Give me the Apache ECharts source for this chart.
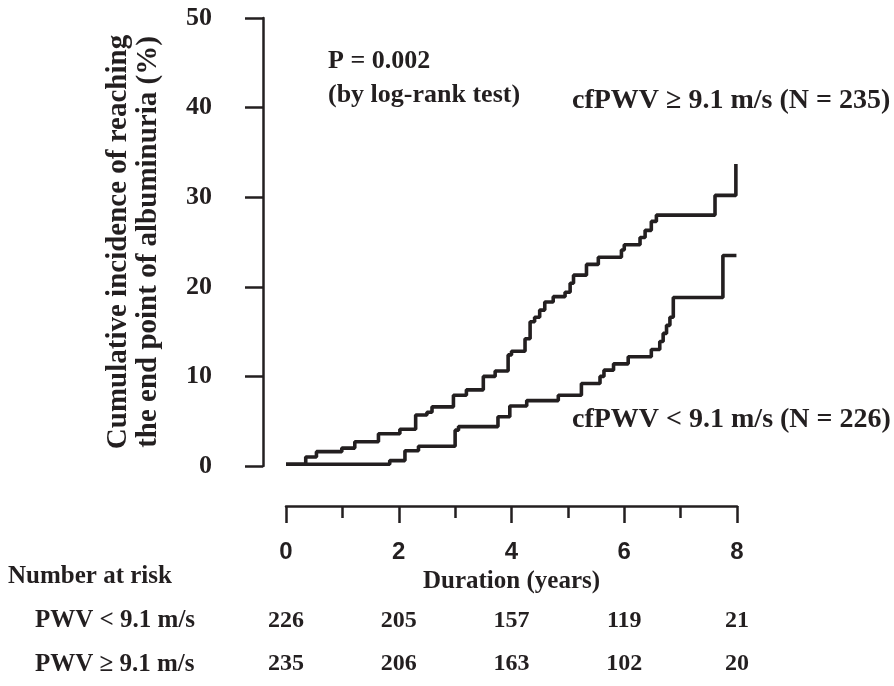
<!DOCTYPE html>
<html><head><meta charset="utf-8">
<script src="https://cdn.jsdelivr.net/npm/echarts@6/dist/echarts.min.js"></script>
<style>html,body{margin:0;padding:0;background:#fff}#c{width:894px;height:686px}</style>
</head><body><div id="c"></div>
<script>
// cfPWV >= 9.1 m/s : event times (years) and cumulative incidence (%)
const highX = [0, 0.35, 0.54, 0.99, 1.22, 1.64, 2.02, 2.30, 2.50, 2.59, 2.97, 3.20, 3.50, 3.71, 3.94, 4.00, 4.24, 4.33, 4.41, 4.50, 4.59, 4.74, 4.95, 5.04, 5.10, 5.33, 5.54, 5.95, 6.00, 6.28, 6.37, 6.48, 6.57, 7.61, 7.98];
const highY = [0.2, 1.0, 1.6, 2.0, 2.7, 3.6, 4.1, 5.7, 6.0, 6.6, 7.9, 8.5, 10.0, 10.6, 12.4, 12.8, 14.2, 16.1, 16.6, 17.4, 18.3, 18.9, 19.4, 20.4, 21.3, 22.5, 23.3, 24.1, 24.7, 25.5, 26.3, 27.3, 28.0, 30.2, 33.7];
// cfPWV < 9.1 m/s
const lowX = [0, 1.84, 2.11, 2.35, 3.00, 3.06, 3.76, 3.97, 4.27, 4.83, 5.24, 5.57, 5.64, 5.81, 6.07, 6.48, 6.63, 6.69, 6.75, 6.81, 6.87, 7.75, 7.99];
const lowY = [0.2, 0.6, 1.7, 2.2, 4.0, 4.4, 5.5, 6.7, 7.3, 7.9, 9.2, 10.0, 10.7, 11.4, 12.2, 13.0, 13.9, 14.8, 15.7, 16.6, 18.8, 23.5, 23.5];

const xTickLabels = ['0', '2', '4', '6', '8'];
const yTickLabels = ['0', '10', '20', '30', '40', '50'];
const riskTimes = [0, 2, 4, 6, 8];
const riskGroups = ['PWV < 9.1 m/s', 'PWV \u2265 9.1 m/s'];
const riskLow = [226, 205, 157, 119, 21];
const riskHigh = [235, 206, 163, 102, 20];

const INK = '#231f20';
const SERIF = '"Liberation Serif", "Times New Roman", serif';
const SANS = '"Liberation Sans", Arial, sans-serif';

const zip = (xs, ys) => xs.map((x, i) => [x, ys[i]]);
const riskData = [];
riskTimes.forEach((t, i) => {
  riskData.push([t, riskGroups[0], riskLow[i]]);
  riskData.push([t, riskGroups[1], riskHigh[i]]);
});

const chart = echarts.init(document.getElementById('c'), null, {renderer: 'canvas'});
chart.setOption({
  backgroundColor: '#fff',
  animation: false,
  grid: [
    {left: 286, right: 157, top: 18, height: 448},
    {left: 286, right: 157, top: 599, height: 92}
  ],
  xAxis: [{
    gridIndex: 0, type: 'value', min: 0, max: 8, interval: 2,
    offset: 40,
    axisLine: {show: true, onZero: false, lineStyle: {color: INK, width: 2.5}},
    axisTick: {show: true, length: 17, lineStyle: {color: INK, width: 2.5}},
    minorTick: {show: true, splitNumber: 2, length: 12, lineStyle: {color: INK, width: 2.5}},
    splitLine: {show: false},
    axisLabel: {
      margin: 34, color: INK, fontFamily: SANS, fontWeight: 'bold', fontSize: 24,
      formatter: v => xTickLabels[v / 2]
    },
    name: 'Duration (years)', nameLocation: 'middle', nameGap: 60,
    nameTextStyle: {color: INK, fontFamily: SERIF, fontWeight: 'bold', fontSize: 25}
  }, {
    gridIndex: 1, type: 'value', min: 0, max: 8, show: false
  }],
  yAxis: [{
    gridIndex: 0, type: 'value', min: 0, max: 50, interval: 10,
    offset: 23,
    axisLine: {show: true, onZero: false, lineStyle: {color: INK, width: 2.5}},
    axisTick: {show: true, length: 18, lineStyle: {color: INK, width: 2.5}},
    splitLine: {show: false},
    axisLabel: {
      margin: 51, color: INK, fontFamily: SERIF, fontWeight: 'bold', fontSize: 26,
      formatter: v => yTickLabels[v / 10]
    },
    name: 'Cumulative incidence of reaching\nthe end point of albuminuria (%)',
    nameLocation: 'middle', nameGap: 99, nameRotate: 90,
    nameTextStyle: {color: INK, fontFamily: SERIF, fontWeight: 'bold', fontSize: 29, lineHeight: 30}
  }, {
    gridIndex: 1, type: 'category', data: riskGroups, inverse: true,
    axisLine: {show: false}, axisTick: {show: false}, splitLine: {show: false},
    axisLabel: {
      align: 'left', margin: 251, color: INK, fontFamily: SERIF, fontWeight: 'bold', fontSize: 25
    }
  }],
  series: [{
    type: 'line', xAxisIndex: 0, yAxisIndex: 0, step: 'end',
    data: zip(highX, highY), showSymbol: false, symbol: 'none',
    lineStyle: {color: INK, width: 3.6}
  }, {
    type: 'line', xAxisIndex: 0, yAxisIndex: 0, step: 'end',
    data: zip(lowX, lowY), showSymbol: false, symbol: 'none',
    lineStyle: {color: INK, width: 3.6}
  }, {
    type: 'scatter', xAxisIndex: 1, yAxisIndex: 1,
    data: riskData, symbolSize: 0,
    itemStyle: {color: INK, opacity: 1},
    label: {
      show: true, position: 'inside', color: INK, opacity: 1,
      textBorderWidth: 0,
      fontFamily: SERIF, fontWeight: 'bold', fontSize: 24,
      formatter: p => String(p.value[2])
    }
  }],
  graphic: [
    {type: 'text', left: 328, top: 48, style: {text: 'P = 0.002', fill: INK, font: 'bold 26px ' + SERIF}},
    {type: 'text', left: 328, top: 82, style: {text: '(by log-rank test)', fill: INK, font: 'bold 26px ' + SERIF}},
    {type: 'text', left: 572, top: 87, style: {text: 'cfPWV \u2265 9.1 m/s (N = 235)', fill: INK, font: 'bold 28px ' + SERIF}},
    {type: 'text', left: 572, top: 406, style: {text: 'cfPWV < 9.1 m/s (N = 226)', fill: INK, font: 'bold 28px ' + SERIF}},
    {type: 'text', left: 8, top: 564, style: {text: 'Number at risk', fill: INK, font: 'bold 25px ' + SERIF}}
  ]
});
</script>
</body></html>
